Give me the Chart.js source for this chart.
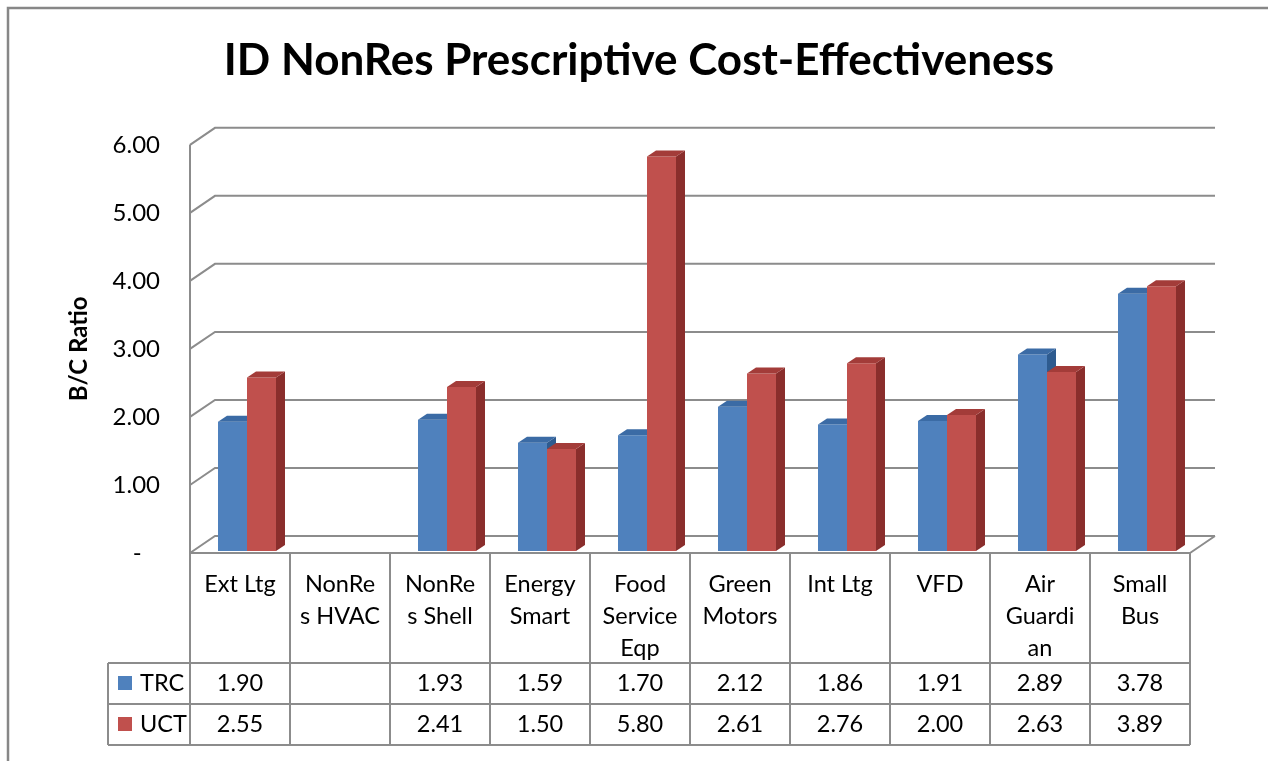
<!DOCTYPE html>
<html>
<head>
<meta charset="utf-8">
<title>ID NonRes Prescriptive Cost-Effectiveness</title>
<script src="https://cdn.jsdelivr.net/npm/chart.js@4.4.1/dist/chart.umd.min.js"></script>
<style>
  html, body { margin: 0; padding: 0; background: #fff; }
  #wrap { width: 1268px; height: 761px; position: relative; }
</style>
</head>
<body>
<div id="wrap"><canvas id="chart"></canvas></div>
<script>
/* ---------- Data ---------- */
var categories = [
  ['Ext Ltg'], ['NonRe', 's HVAC'], ['NonRe', 's Shell'], ['Energy', 'Smart'],
  ['Food', 'Service', 'Eqp'], ['Green', 'Motors'], ['Int Ltg'], ['VFD'],
  ['Air', 'Guardi', 'an'], ['Small', 'Bus']
];
var trcValues = [1.90, null, 1.93, 1.59, 1.70, 2.12, 1.86, 1.91, 2.89, 3.78];
var uctValues = [2.55, null, 2.41, 1.50, 5.80, 2.61, 2.76, 2.00, 2.63, 3.89];
var seriesNames = ['TRC', 'UCT'];
var yTicks = [0, 1, 2, 3, 4, 5, 6];

/* ---------- Look ---------- */
var frontColors = ['#4F81BD', '#C0504D'];
var sideColors = ['#2E5B8F', '#8A2E2C'];
var topColors = ['#3B6BA5', '#A33C39'];
var GRID = '#8c8c8c';
var WALL_DX = 25, WALL_DY = -17;           // back wall offset
var BAR_DX = 7, BAR_DY = -2;               // bars sit mid-depth on the floor
var BAR_DEPTH = 9, BAR_RISE = -6;          // bar side / top faces

Chart.defaults.font.family = "Lato, 'Noto Sans', sans-serif";
Chart.defaults.color = '#000';

function fmt(v) { return v == null ? '' : v.toFixed(2); }

/* ---------- Excel-ish 3D walls, bars and data table ---------- */
Chart.register({
  id: 'excel3d',
  beforeDraw: function (chart) {
    var ctx = chart.ctx, a = chart.chartArea, y = chart.scales.y;
    ctx.save();
    // outer chart frame
    ctx.strokeStyle = '#878787';
    ctx.lineWidth = 2.5;
    ctx.beginPath();
    ctx.moveTo(8, chart.height);
    ctx.lineTo(8, 8);
    ctx.lineTo(chart.width, 8);
    ctx.stroke();
    // side wall, back wall gridlines, floor
    ctx.strokeStyle = GRID;
    ctx.lineWidth = 2;
    ctx.beginPath();
    yTicks.forEach(function (v) {
      var py = y.getPixelForValue(v);
      ctx.moveTo(a.left, py);
      ctx.lineTo(a.left + WALL_DX, py + WALL_DY);
      ctx.lineTo(a.right + WALL_DX, py + WALL_DY);
    });
    ctx.moveTo(a.left, a.top);
    ctx.lineTo(a.left, a.bottom);
    ctx.moveTo(a.right, a.bottom);
    ctx.lineTo(a.right + WALL_DX, a.bottom + WALL_DY);
    ctx.stroke();
    ctx.restore();
  },
  beforeDatasetDraw: function () { return false; },
  afterDatasetsDraw: function (chart) {
    var ctx = chart.ctx;
    chart.data.datasets.forEach(function (ds, i) {
      var meta = chart.getDatasetMeta(i);
      ctx.save();
      ctx.translate(BAR_DX, BAR_DY);
      meta.controller.draw();
      meta.data.forEach(function (bar, j) {
        if (ds.data[j] == null) return;
        var p = bar.getProps(['x', 'y', 'base', 'width'], true);
        var l = p.x - p.width / 2, r = p.x + p.width / 2;
        ctx.fillStyle = sideColors[i];
        ctx.beginPath();
        ctx.moveTo(r, p.y);
        ctx.lineTo(r + BAR_DEPTH, p.y + BAR_RISE);
        ctx.lineTo(r + BAR_DEPTH, p.base + BAR_RISE);
        ctx.lineTo(r, p.base);
        ctx.closePath();
        ctx.fill();
        ctx.fillStyle = topColors[i];
        ctx.beginPath();
        ctx.moveTo(l, p.y);
        ctx.lineTo(l + BAR_DEPTH, p.y + BAR_RISE);
        ctx.lineTo(r + BAR_DEPTH, p.y + BAR_RISE);
        ctx.lineTo(r, p.y);
        ctx.closePath();
        ctx.fill();
      });
      ctx.restore();
    });
  },
  afterDraw: function (chart) {
    var ctx = chart.ctx, a = chart.chartArea, x = chart.scales.x;
    var step = x.getPixelForValue(1) - x.getPixelForValue(0);
    var headBottom = a.bottom + 110, row1 = headBottom + 41, row2 = row1 + 41;
    var keyLeft = 108;
    ctx.save();
    ctx.strokeStyle = GRID;
    ctx.lineWidth = 2;
    ctx.beginPath();
    [a.bottom, headBottom, row1, row2].forEach(function (yy, k) {
      ctx.moveTo(k === 0 ? a.left : keyLeft, yy);
      ctx.lineTo(a.right, yy);
    });
    ctx.moveTo(keyLeft, headBottom);
    ctx.lineTo(keyLeft, row2);
    for (var c = 0; c <= categories.length; c++) {
      var cx = a.left + c * step;
      ctx.moveTo(cx, a.bottom);
      ctx.lineTo(cx, row2);
    }
    ctx.stroke();

    ctx.font = '23.5px Lato';
    ctx.fillStyle = '#000';
    ctx.textAlign = 'center';
    ctx.textBaseline = 'middle';
    chart.data.labels.forEach(function (lines, i) {
      var cx = x.getPixelForValue(i);
      lines.forEach(function (t, k) {
        ctx.fillText(t, cx, a.bottom + 31 + k * 32);
      });
    });
    chart.data.datasets.forEach(function (ds, s) {
      var cy = (s === 0 ? headBottom : row1) + 20;
      ds.data.forEach(function (v, i) {
        ctx.fillText(fmt(v), x.getPixelForValue(i), cy);
      });
      ctx.fillStyle = frontColors[s];
      ctx.fillRect(keyLeft + 10, cy - 7, 14, 14);
      ctx.fillStyle = '#000';
      ctx.textAlign = 'left';
      ctx.fillText(ds.label, keyLeft + 32, cy);
      ctx.textAlign = 'center';
    });
    ctx.restore();
  }
});

new Chart(document.getElementById('chart'), {
  type: 'bar',
  data: {
    labels: categories,
    datasets: [
      { label: seriesNames[0], data: trcValues, backgroundColor: frontColors[0] },
      { label: seriesNames[1], data: uctValues, backgroundColor: frontColors[1] }
    ]
  },
  options: {
    responsive: true,
    maintainAspectRatio: false,
    animation: false,
    categoryPercentage: 0.58,
    barPercentage: 1.0,
    layout: { padding: { left: 10, right: 0, top: 0, bottom: 208 } },
    plugins: {
      legend: { display: false },
      title: {
        display: true,
        text: 'ID NonRes Prescriptive Cost-Effectiveness',
        color: '#000',
        font: { size: 44, weight: 'bold' },
        padding: { top: 34, bottom: 58 }
      }
    },
    scales: {
      x: { display: false },
      y: {
        min: 0,
        max: 6,
        afterFit: function (scale) { scale.width = 180; },
        grid: { display: false, drawTicks: false },
        border: { display: false },
        ticks: {
          stepSize: 1,
          padding: 30,
          font: { size: 24 },
          color: '#000',
          callback: function (v) { return v === 0 ? '-   ' : v.toFixed(2); }
        },
        title: {
          display: true,
          text: 'B/C Ratio',
          color: '#000',
          font: { size: 24, weight: 'bold' },
          padding: { top: 55 }
        }
      },
      // empty right-hand margin so the chart ends where the reference's does
      yRight: {
        position: 'right',
        min: 0,
        max: 6,
        afterFit: function (scale) { scale.width = 78; },
        grid: { display: false, drawTicks: false },
        border: { display: false },
        ticks: { display: false }
      }
    }
  }
});
</script>
</body>
</html>
